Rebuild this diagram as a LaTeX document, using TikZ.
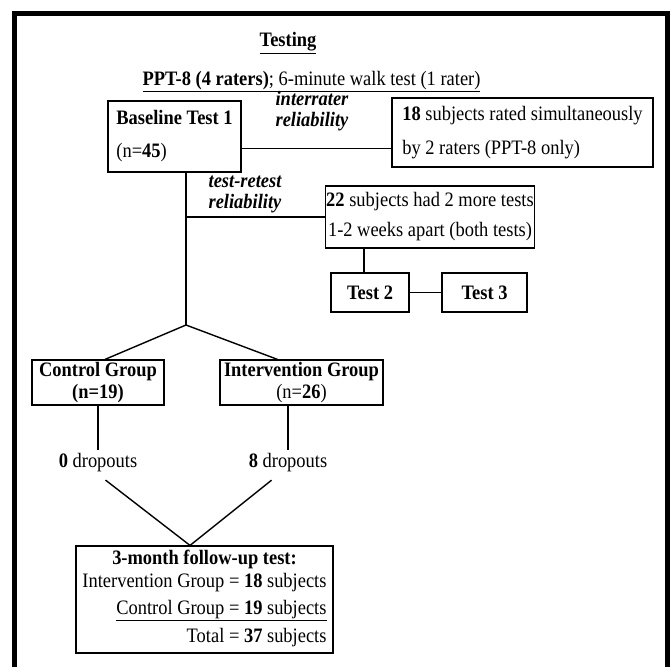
\documentclass[tikz,border=0pt]{standalone}
\usepackage{fontspec}
\setmainfont[FakeStretch=0.9]{Liberation Serif}
\usetikzlibrary{calc}

\tikzset{
  every node/.style={font=\fontsize{20.5}{22}\selectfont},
  box/.style={draw, line width=1.2pt, inner sep=1pt},
  link/.style={line width=1.4pt},
  reltext/.style={font=\fontsize{20.5}{21}\selectfont\bfseries\itshape, align=center, inner sep=0pt}
}

\begin{document}
\begin{tikzpicture}[x=1pt, y=-1pt]
  \useasboundingbox (0,0) rectangle (671,667);
  % outer frame, open at the bottom
  \draw[line width=5pt, line join=miter] (14.5,667) -- (14.5,13.5) -- (667,13.5) -- (667,667);

  % headings
  \node (title) at (288,43) {\textbf{\underline{Testing}}};
  \node (scope) at (311.5,82) {\underline{\textbf{PPT-8 (4 raters)}; 6-minute walk test (1 rater)}};

  % baseline and interrater branch
  \node[box, minimum width=133pt, minimum height=71pt, align=left] (base) at (174.5,136.5)
    {\textbf{Baseline Test 1}\\[11pt](n=\textbf{45})};
  \node[box, minimum width=261pt, minimum height=69pt, align=left] (rated) at (522.5,132.5)
    {\textbf{18} subjects rated simultaneously\\[12pt]by 2 raters (PPT-8 only)};
  \node[reltext] (inter) at (312,111.5) {interrater\\reliability};

  % test-retest branch
  \node[box, minimum width=204pt, minimum height=62pt, align=center] (more) at (430,217)
    {\textbf{22} subjects had 2 more tests\\[8pt]1-2 weeks apart (both tests)};
  \node[reltext] (retest) at (245,194.5) {test-retest\\reliability};
  \node[box, minimum width=78pt, minimum height=39pt] (testtwo) at (370,292.5) {\textbf{Test 2}};
  \node[box, minimum width=85pt, minimum height=39pt] (testthree) at (484.5,292.5) {\textbf{Test 3}};

  \coordinate (split) at (186,325);

  % the two groups
  \node[box, minimum width=132pt, minimum height=45pt, align=center, inner sep=0pt] (control) at (98,382.5)
    {\textbf{Control Group}\\\textbf{(n=19)}};
  \node[box, minimum width=163pt, minimum height=45pt, align=center, inner sep=0pt] (interv) at (301.5,382.5)
    {\textbf{Intervention Group}\\(n=\textbf{26})};
  \node (dropc) at (98,463) {\textbf{0} dropouts};
  \node (dropi) at (288,463) {\textbf{8} dropouts};

  % follow-up
  \node[box, minimum width=257pt, minimum height=107pt, inner sep=2pt] (follow) at (204.5,599.5)
    {\begin{tabular}{@{}r@{}}
      \multicolumn{1}{@{}c@{}}{\textbf{3-month follow-up test:}}\\[1pt]
      Intervention Group = \textbf{18} subjects\\[5pt]
      \underline{Control Group = \textbf{19} subjects}\\[6pt]
      Total = \textbf{37} subjects
    \end{tabular}};
  \coordinate (apex) at ([xshift=-14.5pt]follow.north);

  % connectors
  \draw[link] ([yshift=-12pt]base.east) -- ([yshift=-12pt]base.east -| rated.west);
  \draw[link] (split |- base.south) -- (split);
  \draw[link] (split |- more.west) -- (more.west);
  \draw[link] ([xshift=-6pt]testtwo.north) -- ([xshift=-6pt]testtwo.north |- more.south);
  \draw[link] (testtwo.east) -- (testthree.west);
  \draw[link] ([xshift=7pt]control.north) -- (split) -- ([xshift=-24pt]interv.north);
  \draw[link] (control.south) -- (dropc.north);
  \draw[link] (interv.south -| dropi) -- (dropi.north);
  \draw[link, shorten <=7pt] ([xshift=2pt]dropc.south) -- (apex);
  \draw[link, shorten <=7pt] ([xshift=-11pt]dropi.south) -- (apex);
\end{tikzpicture}
\end{document}
